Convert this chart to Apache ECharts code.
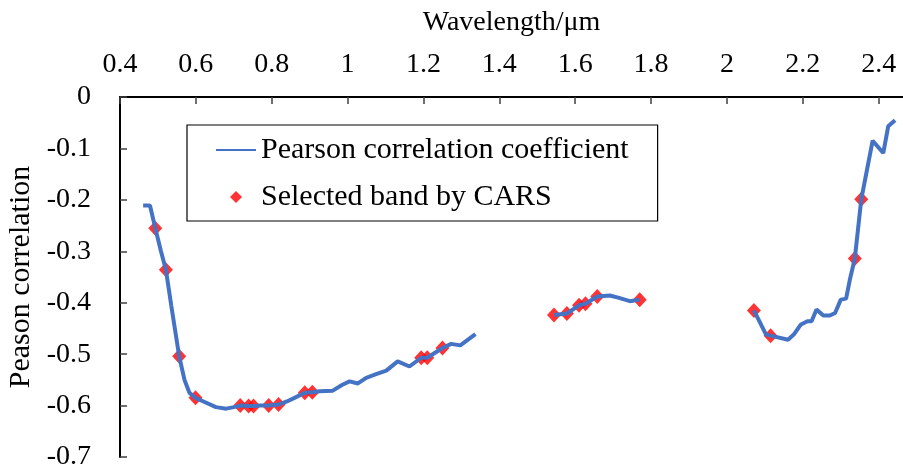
<!DOCTYPE html>
<html>
<head>
<meta charset="utf-8">
<script src="https://cdn.jsdelivr.net/npm/echarts@6/dist/echarts.min.js"></script>
<style>
html,body{margin:0;padding:0;background:#fff;}
#chart{width:903px;height:466px;}
</style>
</head>
<body>
<div id="chart"></div>
<script>
// Pearson correlation curve (null = gap between segments)
const lineWavelength = [
  0.461, 0.479, 0.493, 0.508, 0.521, 0.535, 0.556, 0.570, 0.583, 0.599,
  0.620, 0.653, 0.680, 0.700, 0.717, 0.739, 0.752, 0.770, 0.792, 0.818,
  0.840, 0.860, 0.887, 0.907, 0.926, 0.961, 0.985, 1.005, 1.027, 1.049,
  1.075, 1.102, 1.132, 1.163, 1.194, 1.210, 1.250, 1.273, 1.297, 1.337,
  null,
  1.544, 1.578, 1.610, 1.627, 1.658, 1.691, 1.713, 1.744, 1.770,
  null,
  2.071, 2.103, 2.115, 2.161, 2.176, 2.194, 2.212, 2.223, 2.236, 2.254,
  2.271, 2.285, 2.300, 2.314, 2.324, 2.337, 2.354, 2.384, 2.412, 2.425,
  2.443
];
const lineCorrelation = [
  -0.211, -0.211, -0.255, -0.300, -0.336, -0.405, -0.504, -0.550, -0.575, -0.585,
  -0.592, -0.603, -0.606, -0.603, -0.600, -0.601, -0.601, -0.600, -0.600, -0.598,
  -0.592, -0.585, -0.575, -0.574, -0.572, -0.571, -0.560, -0.553, -0.557, -0.546,
  -0.539, -0.532, -0.514, -0.524, -0.507, -0.507, -0.488, -0.480, -0.483, -0.461,
  null,
  -0.424, -0.421, -0.405, -0.402, -0.388, -0.386, -0.390, -0.397, -0.394,
  null,
  -0.415, -0.462, -0.464, -0.472, -0.462, -0.443, -0.436, -0.436, -0.413, -0.425,
  -0.425, -0.420, -0.394, -0.392, -0.355, -0.314, -0.199, -0.085, -0.109, -0.057,
  -0.045
];
// Bands selected by CARS
const selWavelength = [
  0.493, 0.521, 0.556, 0.599, 0.717, 0.739, 0.752, 0.792, 0.818, 0.887,
  0.907, 1.194, 1.210, 1.250, 1.544, 1.578, 1.610, 1.627, 1.658, 1.770,
  2.071, 2.115, 2.337, 2.354
];
const selCorrelation = [
  -0.255, -0.336, -0.504, -0.585, -0.600, -0.601, -0.601, -0.600, -0.598, -0.575,
  -0.574, -0.507, -0.507, -0.488, -0.424, -0.421, -0.405, -0.402, -0.388, -0.394,
  -0.415, -0.464, -0.314, -0.199
];
const xTicks = [0.4, 0.6, 0.8, 1.0, 1.2, 1.4, 1.6, 1.8, 2.0, 2.2, 2.4];
const seriesNames = ['Pearson correlation coefficient', 'Selected band by CARS'];

const FONT = '"Liberation Serif", "Times New Roman", serif';
const lineData = lineWavelength.map((x, i) =>
  (x === null || lineCorrelation[i] === null) ? ['-', '-'] : [x, lineCorrelation[i]]);
const selData = selWavelength.map((x, i) => [x, selCorrelation[i]]);

const chart = echarts.init(document.getElementById('chart'), null, {renderer: 'canvas'});
chart.setOption({
  animation: false,
  backgroundColor: '#ffffff',
  grid: {left: 120, top: 97, right: 0, bottom: 9, containLabel: false, outerBoundsMode: 'none'},
  legend: {
    orient: 'vertical',
    left: 187, top: 125,
    padding: [10, 29, 9, 28],
    itemGap: 17,
    itemWidth: 40, itemHeight: 12,
    symbolKeepAspect: true,
    borderColor: '#000', borderWidth: 1.2,
    textStyle: {fontFamily: FONT, fontSize: 30, color: '#000', lineHeight: 30},
    data: [
      {name: seriesNames[0], itemStyle: {color: 'rgba(0,0,0,0)', borderWidth: 0, opacity: 0}},
      {name: seriesNames[1], icon: 'path://M6,0L12,6L6,12L0,6Z'}
    ]
  },
  xAxis: {
    type: 'value', position: 'top',
    min: 0.4, max: 2.464, interval: 0.2,
    name: 'Wavelength/μm', nameLocation: 'middle', nameGap: 60,
    nameTextStyle: {fontFamily: FONT, fontSize: 28, color: '#000'},
    axisLine: {show: true, lineStyle: {color: '#000', width: 2}},
    axisTick: {show: true, inside: true, length: 7, customValues: xTicks, lineStyle: {color: '#404040', width: 1.5}},
    axisLabel: {
      fontFamily: FONT, fontSize: 28, color: '#000', margin: 18,
      customValues: xTicks,
      formatter: function (v) {
        if (Math.abs(v * 5 - Math.round(v * 5)) > 1e-6) return '';
        return String(parseFloat(v.toFixed(1)));
      }
    },
    splitLine: {show: false}
  },
  yAxis: {
    type: 'value', min: -0.7, max: 0, interval: 0.1,
    name: 'Peason correlation', nameLocation: 'middle', nameGap: 81,
    nameTextStyle: {fontFamily: FONT, fontSize: 30, color: '#000'},
    axisLine: {show: true, lineStyle: {color: '#000', width: 2}},
    axisTick: {show: true, inside: true, length: 7, lineStyle: {color: '#404040', width: 1.5}},
    axisLabel: {
      fontFamily: FONT, fontSize: 28, color: '#000', margin: 29,
      formatter: function (v) { return String(parseFloat(v.toFixed(1))); }
    },
    splitLine: {show: false}
  },
  series: [
    {
      name: seriesNames[0], type: 'line', data: lineData,
      symbol: 'none', connectNulls: false,
      lineStyle: {color: '#4472C4', width: 4},
      itemStyle: {color: '#4472C4'}
    },
    {
      name: seriesNames[1], type: 'scatter', data: selData,
      symbol: 'diamond', symbolSize: [14, 15],
      itemStyle: {color: '#FF0000'}
    }
  ]
});
</script>
</body>
</html>
